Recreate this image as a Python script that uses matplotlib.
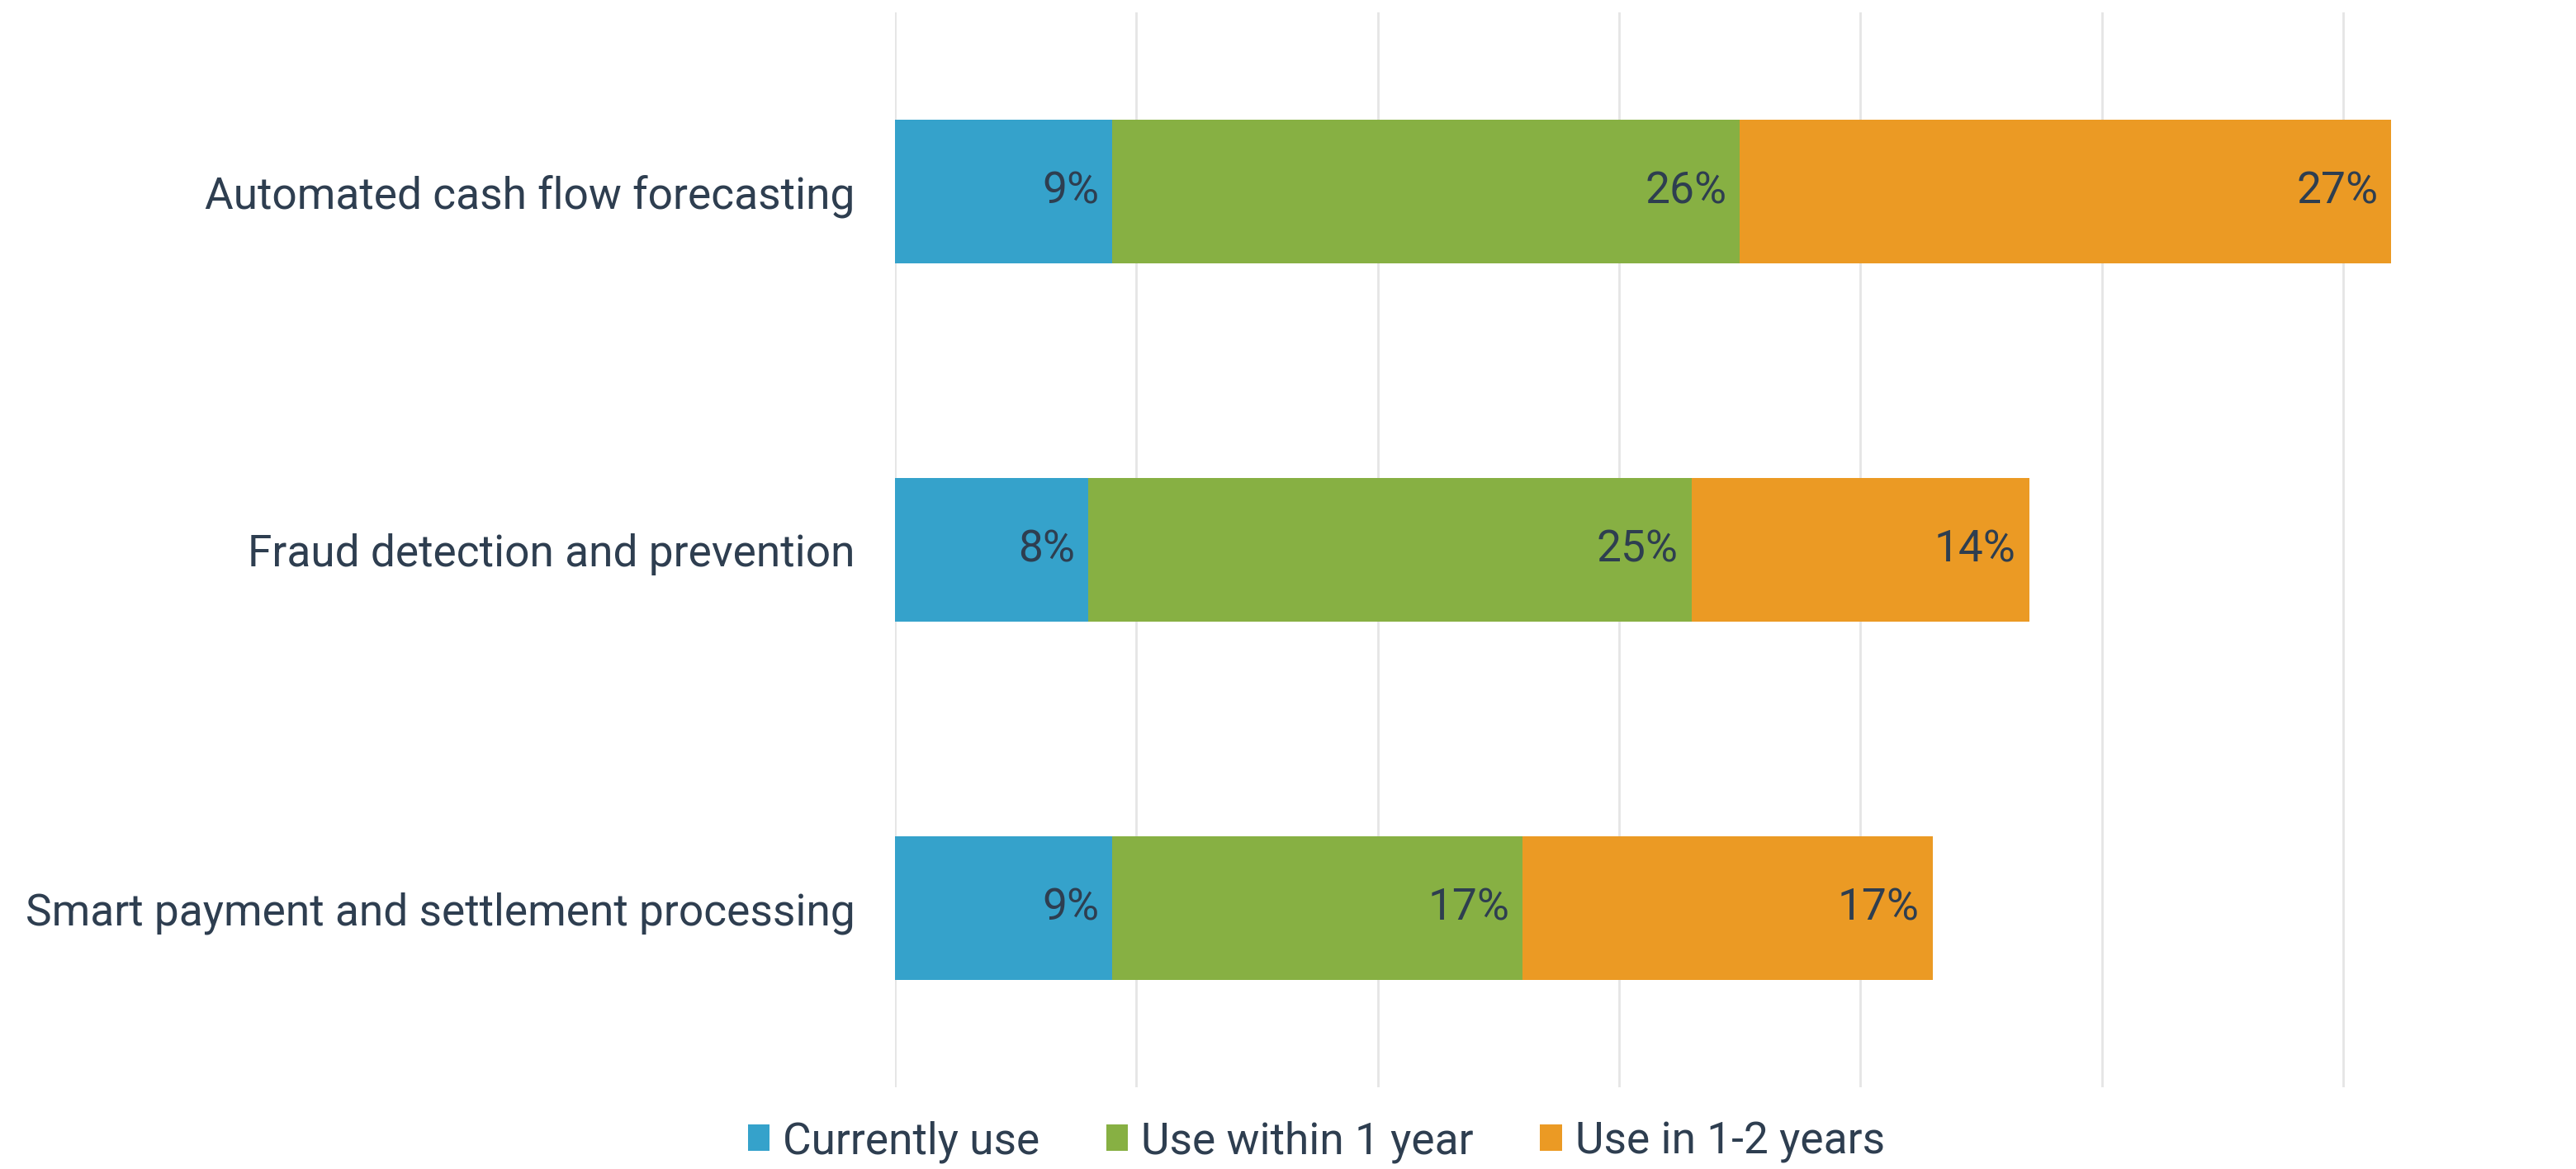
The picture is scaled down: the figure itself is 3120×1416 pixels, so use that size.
import matplotlib
matplotlib.use("Agg")
import matplotlib.pyplot as plt
import numpy as np

# data
categories = ["Automated cash flow forecasting",
              "Fraud detection and prevention",
              "Smart payment and settlement processing"]
series_names = ["Currently use", "Use within 1 year", "Use in 1-2 years"]
currently_use = [9, 8, 9]
within_1_year = [26, 25, 17]
in_1_2_years = [27, 14, 17]

colors = ["#35A2CB", "#87B043", "#EB9A24"]
text_color = "#2E3E50"
fs = 19.2

plt.rcParams['font.family'] = ['Roboto', 'DejaVu Sans']

fig = plt.figure(figsize=(15.6, 7.08), dpi=200)
ax = fig.add_axes([0.3475, 0.0699, 0.6450, 0.9195])

y = np.arange(len(categories))
left = np.zeros(len(categories))
for name, vals, c in zip(series_names, [currently_use, within_1_year, in_1_2_years], colors):
    vals = np.array(vals, dtype=float)
    ax.barh(y, vals, left=left, height=0.4, color=c, label=name, zorder=2)
    for yy, l, v in zip(y, left, vals):
        ax.text(l + v - 0.55, yy, "%d%%" % v, ha="right", va="center",
                fontsize=fs, color=text_color, zorder=3)
    left += vals

ax.set_xlim(0, 68.85)
ax.set_ylim(2.5, -0.5)
ax.set_xticks(np.arange(0, 61, 10))
ax.xaxis.grid(True, color="#E5E5E5", linewidth=1.0, zorder=0)
ax.tick_params(axis="x", length=0, labelbottom=False)
ax.tick_params(axis="y", length=0, pad=17.5, labelsize=fs, labelcolor=text_color)
ax.set_yticks(y)
ax.set_yticklabels(categories)
for s in ax.spines.values():
    s.set_visible(False)

fig.legend(loc="center", bbox_to_anchor=(0.511, 0.0233), ncol=3, frameon=False,
           fontsize=fs, labelcolor=text_color, handlelength=0.5, handleheight=0.55,
           handletextpad=0.3, columnspacing=1.5)

fig.savefig("out.png", dpi=200)
